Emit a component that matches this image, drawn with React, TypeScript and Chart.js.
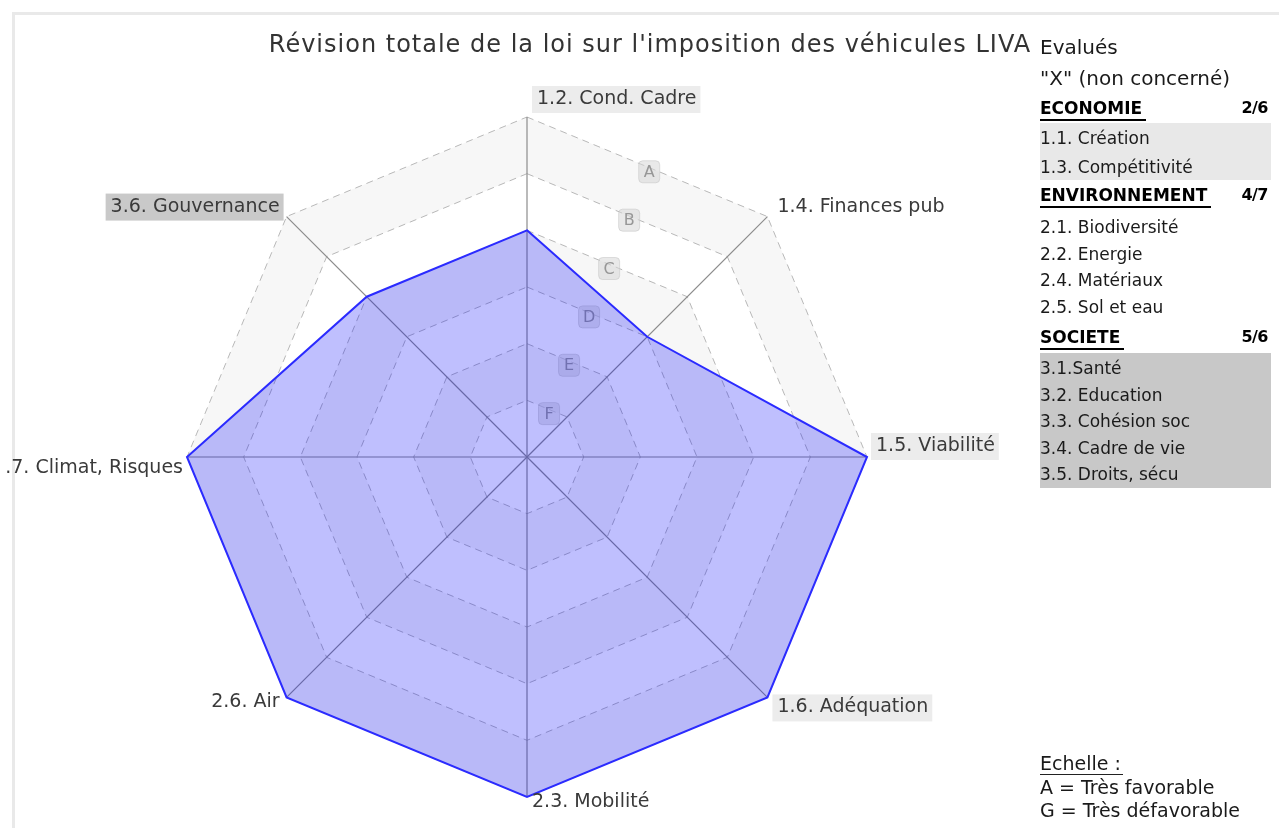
import React, { useEffect, useRef } from "react";
import { Chart, registerables } from "chart.js";

Chart.register(...registerables);

const title = "Révision totale de la loi sur l'imposition des véhicules LIVA";
const categories = [
  "1.2. Cond. Cadre",
  "1.4. Finances pub",
  "1.5. Viabilité",
  "1.6. Adéquation",
  "2.3. Mobilité",
  "2.6. Air",
  "2.7. Climat, Risques",
  "3.6. Gouvernance",
];
const values = [4, 3, 6, 6, 6, 6, 6, 4];
const tickLabels = ["G", "F", "E", "D", "C", "B", "A"];

const economieItems = ["1.1. Création", "1.3. Compétitivité"];
const environnementItems = ["2.1. Biodiversité", "2.2. Energie", "2.4. Matériaux", "2.5. Sol et eau"];
const societeItems = ["3.1.Santé", "3.2. Education", "3.3. Cohésion soc", "3.4. Cadre de vie", "3.5. Droits, sécu"];
const economieCount = "2/6";
const environnementCount = "4/7";
const societeCount = "5/6";

// styles for point labels: backdrop colour, and [dx, dy, align] relative to the axis end
const labelBackdrops = ["#ececec", null, "#ececec", "#ececec", null, null, null, "#c9c9c9"];
const labelOffsets: [number, number, CanvasTextAlign][] = [
  [10, -18, "left"],
  [10, -10, "left"],
  [9, -11, "left"],
  [10, 10, "left"],
  [5, 5, "left"],
  [-7, 5, "right"],
  [-4, 11, "right"],
  [-7, -10, "right"],
];

const FONT = '"DejaVu Sans", sans-serif';

const bandsPlugin = {
  id: "bands",
  beforeDraw(chart: any) {
    const scale = chart.scales.r;
    const ctx = chart.ctx;
    const n = categories.length;
    ctx.save();
    for (let v = scale.max; v >= 1; v--) {
      ctx.beginPath();
      for (let i = 0; i < n; i++) {
        const p = scale.getPointPositionForValue(i, v);
        if (i === 0) ctx.moveTo(p.x, p.y);
        else ctx.lineTo(p.x, p.y);
      }
      ctx.closePath();
      ctx.fillStyle = v % 2 === 0 ? "#f7f7f7" : "#ffffff";
      ctx.fill();
    }
    ctx.restore();
  },
};

const tickLabelPlugin = {
  id: "tickLabelsDiag",
  beforeDatasetsDraw(chart: any) {
    const scale = chart.scales.r;
    const ctx = chart.ctx;
    ctx.save();
    ctx.font = "16px " + FONT;
    ctx.textAlign = "center";
    ctx.textBaseline = "middle";
    for (let v = 1; v <= scale.max; v++) {
      const a = scale.getPointPositionForValue(0, v);
      const b = scale.getPointPositionForValue(1, v);
      const x = (a.x + b.x) / 2 + 2;
      const y = (a.y + b.y) / 2 + 5;
      const w = 21;
      const h = 22;
      ctx.beginPath();
      (ctx as any).roundRect(x - w / 2, y - h / 2, w, h, 4);
      ctx.fillStyle = "rgba(215,215,215,0.55)";
      ctx.fill();
      ctx.strokeStyle = "rgba(200,200,200,0.6)";
      ctx.lineWidth = 1;
      ctx.stroke();
      ctx.fillStyle = "#979797";
      ctx.fillText(tickLabels[v], x, y + 1);
    }
    ctx.restore();
  },
};

const pointLabelPlugin = {
  id: "pointLabelsCustom",
  afterDraw(chart: any) {
    const scale = chart.scales.r;
    const ctx = chart.ctx;
    ctx.save();
    ctx.font = "19px " + FONT;
    ctx.textBaseline = "middle";
    categories.forEach((label, i) => {
      const p = scale.getPointPositionForValue(i, scale.max);
      const [dx, dy, align] = labelOffsets[i];
      const x = p.x + dx;
      const y = p.y + dy;
      const w = ctx.measureText(label).width;
      const left = align === "left" ? x : x - w;
      const bg = labelBackdrops[i];
      if (bg) {
        ctx.fillStyle = bg;
        ctx.fillRect(left - 5, y - 13, w + 9, 27);
      }
      ctx.fillStyle = "#3a3a3a";
      ctx.textAlign = align;
      ctx.fillText(label, x, y);
    });
    ctx.restore();
  },
};

function LegendLine(props: { cy: number; size?: number; ls?: number; children: any; style?: any }) {
  const size = props.size ?? 17;
  const lh = 24;
  return (
    <div
      style={{
        position: "absolute",
        left: 1040,
        top: props.cy - lh / 2,
        height: lh,
        lineHeight: lh + "px",
        fontSize: size,
        letterSpacing: (props.ls ?? 0) + "px",
        color: "#1a1a1a",
        whiteSpace: "nowrap",
        ...props.style,
      }}
    >
      {props.children}
    </div>
  );
}

function Heading(props: { cy: number; text: string; count: string; pad: number }) {
  return (
    <>
      <div
        style={{
          position: "absolute",
          left: 1040,
          top: props.cy - 12,
          height: 24,
          lineHeight: "24px",
          fontSize: 17,
          fontWeight: "bold",
          color: "#000",
          whiteSpace: "nowrap",
        }}
      >
        <span style={{ display: "inline-block", borderBottom: "2px solid #000", paddingRight: props.pad, lineHeight: "22px" }}>
          {props.text}
        </span>
      </div>
      <div
        style={{
          position: "absolute",
          right: 1279 - 1268,
          top: props.cy - 12,
          height: 24,
          lineHeight: "24px",
          fontSize: 16,
          fontWeight: "bold",
          color: "#000",
          letterSpacing: "-0.5px",
        }}
      >
        {props.count}
      </div>
    </>
  );
}

export default function App() {
  const canvasRef = useRef<HTMLCanvasElement | null>(null);

  useEffect(() => {
    document.body.style.margin = "0";
    const canvas = canvasRef.current;
    if (!canvas) return;
    const chart = new Chart(canvas, {
      type: "radar",
      data: {
        labels: categories,
        datasets: [
          {
            data: values,
            fill: true,
            backgroundColor: "rgba(0,0,250,0.25)",
            borderColor: "#2b2bff",
            borderWidth: 2,
            pointRadius: 0,
            tension: 0,
          },
        ],
      },
      options: {
        responsive: false,
        animation: false,
        devicePixelRatio: 1,
        layout: { padding: { left: 181, right: 412, top: 117, bottom: 31 } },
        plugins: { legend: { display: false }, tooltip: { enabled: false }, title: { display: false } },
        scales: {
          r: {
            min: 0,
            max: 6,
            ticks: { display: false, stepSize: 1 },
            pointLabels: { display: false },
            grid: { color: "#b8b8b8", lineWidth: 1 },
            border: { dash: [7, 5] },
            angleLines: { color: "#8c8c8c", lineWidth: 1.2 },
          },
        },
      },
      plugins: [bandsPlugin, tickLabelPlugin, pointLabelPlugin],
    } as any);
    return () => chart.destroy();
  }, []);

  return (
    <div style={{ position: "relative", width: 1279, height: 828, overflow: "hidden", fontFamily: FONT, background: "#fff" }}>
      <div
        style={{
          position: "absolute",
          left: 12,
          top: 12,
          width: 1300,
          height: 900,
          borderLeft: "3px solid #e9e9e9",
          borderTop: "3px solid #e9e9e9",
        }}
      />
      <canvas
        ref={canvasRef}
        width={1273}
        height={828}
        style={{ position: "absolute", left: 6, top: 0, width: 1273, height: 828 }}
      />
      <div
        style={{
          position: "absolute",
          left: 650,
          top: 29,
          transform: "translateX(-50%)",
          fontSize: 24,
          lineHeight: "30px",
          letterSpacing: "1px",
          color: "#333",
          whiteSpace: "nowrap",
        }}
      >
        {title}
      </div>

      <LegendLine cy={47} size={20}>Evalués</LegendLine>
      <LegendLine cy={78} size={20}>"X" (non concerné)</LegendLine>

      <Heading cy={108} text="ECONOMIE" count={economieCount} pad={4} />
      <div style={{ position: "absolute", left: 1040, top: 123, width: 231, height: 57, background: "#e8e8e8" }} />
      {economieItems.map((t, i) => (
        <LegendLine key={t} cy={138 + i * 29}>{t}</LegendLine>
      ))}

      <Heading cy={195} text="ENVIRONNEMENT" count={environnementCount} pad={4} />
      {environnementItems.map((t, i) => (
        <LegendLine key={t} cy={227 + i * 26.5}>{t}</LegendLine>
      ))}

      <Heading cy={337} text="SOCIETE" count={societeCount} pad={4} />
      <div style={{ position: "absolute", left: 1040, top: 353, width: 231, height: 135, background: "#c8c8c8" }} />
      {societeItems.map((t, i) => (
        <LegendLine key={t} cy={368 + i * 26.5}>{t}</LegendLine>
      ))}

      <LegendLine cy={763} size={19}>
        <span style={{ borderBottom: "1.5px solid #222", paddingRight: 2, display: "inline-block", lineHeight: "21px" }}>Echelle :</span>
      </LegendLine>
      <LegendLine cy={787} size={19}>A = Très favorable</LegendLine>
      <LegendLine cy={810} size={19}>G = Très défavorable</LegendLine>
    </div>
  );
}
